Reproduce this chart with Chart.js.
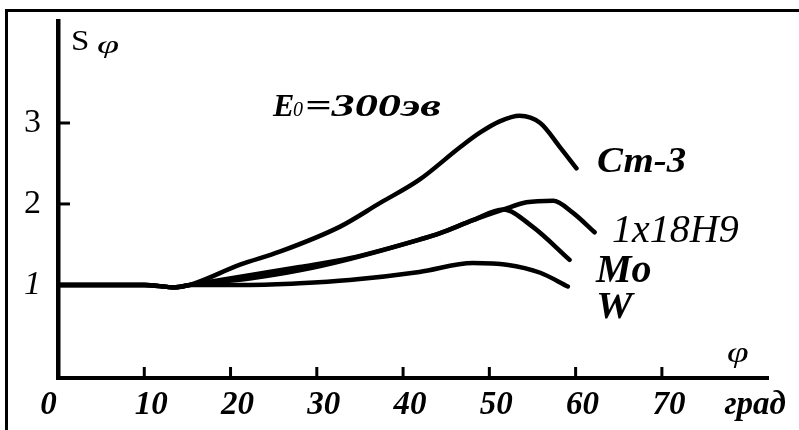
<!DOCTYPE html>
<html>
<head>
<meta charset="utf-8">
<script src="https://cdn.jsdelivr.net/npm/chart.js@4.4.0/dist/chart.umd.min.js"></script>
<style>
  html, body { margin: 0; padding: 0; background: #fff; overflow: hidden; }
  #wrap { position: relative; width: 799px; height: 430px; overflow: hidden; }
  #frame { position: absolute; left: 5px; top: 9px; right: -10px; bottom: -10px; border-left: 3px solid #000; border-top: 3px solid #000; }
  canvas { position: absolute; left: 0; top: 0; }
</style>
</head>
<body>
<div id="wrap">
  <div id="frame"></div>
  <canvas id="myChart" width="799" height="430"></canvas>
</div>
<script>
// DATA (angle in degrees, S value)
const baseAngles = [0, 10, 13.6];
const baseValues = [1.0, 1.0, 0.97];

const st3Angles = [15.3, 21.1, 25.7, 32.7, 37.3, 41.9, 46.6, 48.9, 51.2, 53.5, 55.9, 58.2, 60.1];
const st3Values = [1.0, 1.25, 1.41, 1.72, 2.01, 2.30, 2.70, 2.88, 3.02, 3.09, 3.00, 2.70, 2.44];

const steelAngles = [15.3, 22.2, 28.0, 33.8, 41.9, 44.3, 48.1, 51.6, 54.3, 57.4, 59.7, 62.2];
const steelValues = [1.0, 1.12, 1.22, 1.33, 1.56, 1.64, 1.80, 1.93, 2.02, 2.04, 1.89, 1.65];

const moAngles = [15.3, 22.2, 28.0, 33.8, 41.9, 44.3, 48.1, 51.6, 55.0, 59.3];
const moValues = [1.0, 1.08, 1.18, 1.32, 1.56, 1.64, 1.80, 1.93, 1.72, 1.31];

const wAngles = [15.3, 22.2, 28.0, 33.8, 41.9, 48.1, 52.0, 55.9, 59.1];
const wValues = [1.0, 1.0, 1.02, 1.06, 1.16, 1.27, 1.25, 1.15, 0.98];

const seriesNames = ["Ст-3", "1х18Н9", "Mo", "W"];

// AXES
const xTicks = [0, 10, 20, 30, 40, 50, 60, 70, 80];
const xTickLabels = ["0\u2003", "10", "20", "30", "40", "50", "60", "70", "град"];
const yTicks = [1, 2, 3];
const yTickLabels = ["1", "2", "3"];

const serif = "'Liberation Serif', 'DejaVu Serif', serif";

function makePoints(angles, values) {
  const all = baseAngles.concat(angles);
  const vals = baseValues.concat(values);
  return all.map((a, i) => ({ x: a, y: vals[i] }));
}

// text helper, sx stretches the glyphs sideways
function drawText(ctx, text, x, y, font, sx) {
  ctx.save();
  ctx.font = font;
  ctx.translate(x, y);
  ctx.scale(sx || 1, 1);
  ctx.fillText(text, 0, 0);
  ctx.restore();
}

// inward tick marks
const innerTicks = {
  id: "innerTicks",
  afterDraw(chart) {
    const { ctx, scales } = chart;
    const x = scales.x;
    const y = scales.y;
    ctx.save();
    ctx.strokeStyle = "#000";
    ctx.lineWidth = 3;
    xTicks.forEach((v, i) => {
      if (v === 0 || xTickLabels[i] === "град") return;
      const px = x.getPixelForValue(v);
      ctx.beginPath();
      ctx.moveTo(px, y.bottom);
      ctx.lineTo(px, y.bottom - 11);
      ctx.stroke();
    });
    yTicks.forEach((v) => {
      const py = y.getPixelForValue(v);
      ctx.beginPath();
      ctx.moveTo(x.left, py);
      ctx.lineTo(x.left + 12, py);
      ctx.stroke();
    });
    ctx.restore();
  },
};

// texts: axis titles, energy, curve names
const annotations = {
  id: "annotations",
  afterDraw(chart) {
    const ctx = chart.ctx;
    ctx.save();
    ctx.fillStyle = "#000";
    ctx.textBaseline = "alphabetic";
    ctx.textAlign = "left";

    drawText(ctx, "S", 71, 50, "30px " + serif, 1.1);
    drawText(ctx, "φ", 97, 53, "italic 25px " + serif, 1.6);

    drawText(ctx, "E", 273, 116, "italic bold 32px " + serif, 1.0);
    drawText(ctx, "0", 293, 116, "italic 20px " + serif, 1.0);
    drawText(ctx, "=300эв", 305, 116, "italic bold 32px " + serif, 1.45);

    drawText(ctx, seriesNames[0], 597, 172, "italic bold 36px " + serif, 1.08);
    drawText(ctx, seriesNames[1], 612, 242, "italic 40px " + serif, 1.0);
    drawText(ctx, seriesNames[2], 596, 282, "italic bold 40px " + serif, 1.0);
    drawText(ctx, seriesNames[3], 596, 318, "italic bold 38px " + serif, 1.08);

    drawText(ctx, "φ", 727, 362, "italic 29px " + serif, 1.35);
    ctx.restore();
  },
};

const ctx = document.getElementById("myChart");
const lineStyle = {
  borderColor: "#000",
  borderWidth: 4.5,
  pointRadius: 0,
  fill: false,
  cubicInterpolationMode: "monotone",
  borderCapStyle: "round",
  borderJoinStyle: "round",
};

const myChart = new Chart(ctx, {
  type: "line",
  data: {
    datasets: [
      { label: seriesNames[0], data: makePoints(st3Angles, st3Values), ...lineStyle },
      { label: seriesNames[1], data: makePoints(steelAngles, steelValues), ...lineStyle },
      { label: seriesNames[2], data: makePoints(moAngles, moValues), ...lineStyle },
      { label: seriesNames[3], data: makePoints(wAngles, wValues), ...lineStyle },
    ],
  },
  options: {
    responsive: false,
    animation: false,
    layout: { padding: { top: 21, right: 31, left: 0, bottom: 0 } },
    plugins: {
      legend: { display: false },
      tooltip: { enabled: false },
    },
    scales: {
      x: {
        type: "linear",
        min: 0,
        max: 82.3,
        grid: { display: false, drawTicks: false },
        border: { display: true, color: "#000", width: 4 },
        afterBuildTicks: (s) => {
          s.ticks = xTicks.map((v) => ({ value: v }));
        },
        afterFit: (s) => {
          s.height = 52;
          s.paddingLeft = 0;
          s.paddingRight = 0;
        },
        ticks: {
          autoSkip: false,
          maxRotation: 0,
          padding: 8,
          labelOffset: 7,
          color: "#000",
          font: { family: serif, size: 33, style: "italic", weight: "bold" },
          callback: (v, i) => xTickLabels[i],
        },
      },
      y: {
        min: -0.15,
        max: 4.26,
        grid: { display: false, drawTicks: false },
        border: { display: true, color: "#000", width: 4.5 },
        afterBuildTicks: (s) => {
          s.ticks = yTicks.map((v) => ({ value: v }));
        },
        afterFit: (s) => {
          s.width = 58;
          s.paddingTop = 0;
          s.paddingBottom = 0;
        },
        ticks: {
          padding: 17,
          color: "#000",
          font: (c) => ({
            family: serif,
            size: 34,
            style: c.tick && c.tick.value === 1 ? "italic" : "normal",
          }),
          callback: (v, i) => yTickLabels[i],
        },
      },
    },
  },
  plugins: [innerTicks, annotations],
});
</script>
</body>
</html>
